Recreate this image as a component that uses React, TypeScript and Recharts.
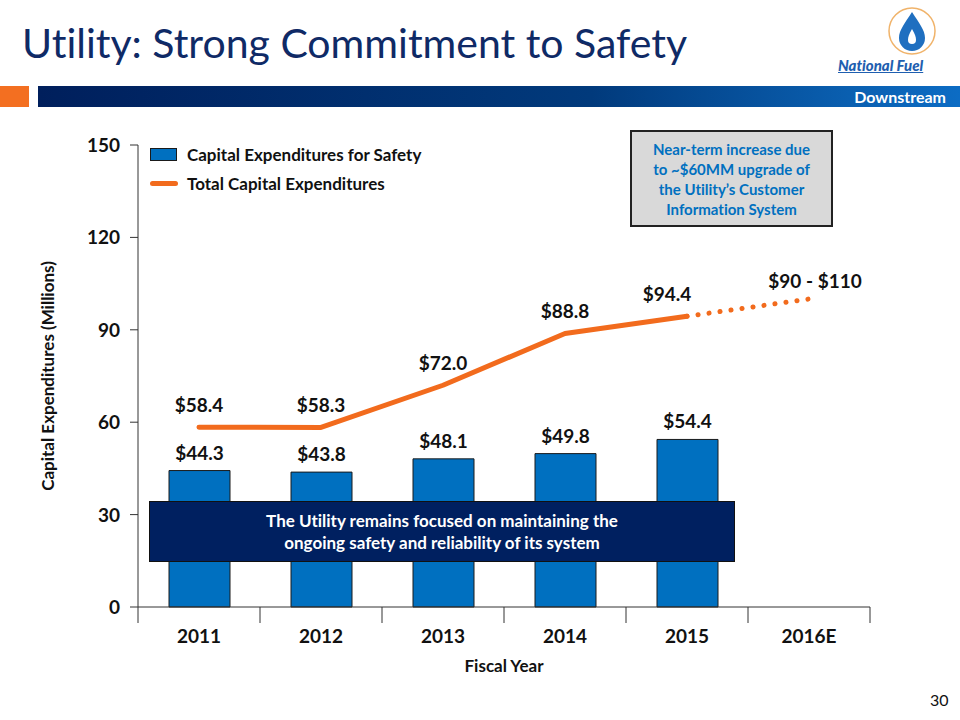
import React from 'react'
import {
  ComposedChart,
  Bar,
  Line,
  XAxis,
  YAxis,
  LabelList,
} from 'recharts'

const FONT = 'Lato, "Open Sans", sans-serif'

const years = ['2011', '2012', '2013', '2014', '2015', '2016E']
const safetyCapex = [44.3, 43.8, 48.1, 49.8, 54.4, null]
const totalCapex = [58.4, 58.3, 72.0, 88.8, 94.4, null]
const projectedCapex = [null, null, null, null, 94.4, 100]
const totalLabels = ['$58.4', '$58.3', '$72.0', '$88.8', '$94.4', '']
const projectedLabels = ['', '', '', '', '', '$90 - $110']
const yTicks = [0, 30, 60, 90, 120, 150]

const data = years.map((year, i) => ({
  year,
  safety: safetyCapex[i],
  total: totalCapex[i],
  projected: projectedCapex[i],
}))

const BAR_BLUE = '#0070c0'
const ORANGE = '#f26b1d'
const HALF_BAND = 61
const NOLIG: React.CSSProperties = { fontVariantLigatures: 'none' }

function XTick(props: any) {
  const { x, y, payload, index } = props
  const isLast = index === years.length - 1
  return (
    <g>
      <line x1={x - HALF_BAND} x2={x - HALF_BAND} y1={y - 8} y2={y + 8} stroke="#333" strokeWidth={1} />
      {isLast && <line x1={x + HALF_BAND} x2={x + HALF_BAND} y1={y - 8} y2={y + 8} stroke="#333" strokeWidth={1} />}
      <text x={x} y={y + 28} textAnchor="middle" fontFamily={FONT} fontWeight={700} fontSize={19} fill="#111">
        {payload.value}
      </text>
    </g>
  )
}

function YTick(props: any) {
  const { x, y, payload } = props
  return (
    <text x={x - 8} y={y} dy={7} textAnchor="end" fontFamily={FONT} fontWeight={700} fontSize={19} fill="#111">
      {payload.value}
    </text>
  )
}

function totalLabel(props: any) {
  const { x, y, index } = props
  const text = totalLabels[index]
  if (!text) return null
  const dx = index === 4 ? -20 : 0
  return (
    <text x={x + dx} y={y - 15} textAnchor="middle" fontFamily={FONT} fontWeight={700} fontSize={19} fill="#111">
      {text}
    </text>
  )
}

function projectedLabel(props: any) {
  const { x, y, index } = props
  const text = projectedLabels[index]
  if (!text) return null
  return (
    <text x={x + 6} y={y - 11} textAnchor="middle" fontFamily={FONT} fontWeight={700} fontSize={19} fill="#111">
      {text}
    </text>
  )
}

function barLabel(props: any) {
  const { x, y, width, value } = props
  if (value == null) return null
  return (
    <text x={x + width / 2} y={y - 11} textAnchor="middle" fontFamily={FONT} fontWeight={700} fontSize={19} fill="#111">
      {'$' + Number(value).toFixed(1)}
    </text>
  )
}

export default function App() {
  const legendTxt: React.CSSProperties = { fontFamily: FONT, fontWeight: 700, fontSize: 17, color: '#111' }
  return (
    <div style={{ ...NOLIG, position: 'absolute', left: 0, top: 0, width: 960, height: 720, background: '#fff', overflow: 'hidden' }}>
      {/* header */}
      <div style={{ position: 'absolute', left: 22, top: 18, fontFamily: FONT, fontSize: 41, color: '#0f2a66' }}>
        Utility: Strong Commitment to Safety
      </div>
      <div style={{ position: 'absolute', left: 0, top: 86, width: 29, height: 21, background: '#f36f21' }} />
      <div
        style={{
          position: 'absolute',
          left: 38,
          top: 86,
          width: 922,
          height: 21,
          background: 'linear-gradient(90deg, #001f5c 0%, #013a7c 60%, #0a5fb0 88%, #0c6cc4 100%)',
        }}
      />
      <div
        style={{
          position: 'absolute',
          right: 14,
          top: 86,
          height: 21,
          lineHeight: '21px',
          fontFamily: FONT,
          fontWeight: 700,
          fontSize: 16,
          color: '#fff',
        }}
      >
        Downstream
      </div>
      <svg style={{ position: 'absolute', left: 880, top: 4 }} width={64} height={54}>
        <circle cx={32} cy={27} r={23} fill="#fff" stroke="#f0b36a" strokeWidth={1.5} />
        <path d="M32 8 C39 19 45 26 45 34 A13 13 0 0 1 19 34 C19 26 25 19 32 8 Z" fill="#1f6fc0" />
        <path d="M32 25 C35 30 36 33 36 36 A4 4 0 0 1 28 36 C28 33 29 30 32 25 Z" fill="#fff" />
      </svg>
      <div
        style={{
          position: 'absolute',
          left: 838,
          top: 56,
          fontFamily: FONT,
          fontWeight: 900,
          fontStyle: 'italic',
          fontSize: 15,
          color: '#1f5fb0',
          textDecoration: 'underline',
        }}
      >
        National Fuel
      </div>

      <ComposedChart
        width={960}
        height={720}
        data={data}
        margin={{ top: 145, right: 90, bottom: 83, left: 0 }}
      >
        <XAxis
          dataKey="year"
          tickLine={false}
          axisLine={{ stroke: '#333', strokeWidth: 1 }}
          tick={<XTick />}
          height={30}
          interval={0}
          label={{
            value: 'Fiscal Year',
            position: 'insideBottom',
            offset: -35,
            style: { fontFamily: FONT, fontWeight: 700, fontSize: 17, fill: '#111' },
          }}
        />
        <YAxis
          domain={[0, 150]}
          ticks={yTicks}
          width={138}
          tickSize={8}
          tickLine={{ stroke: '#333' }}
          axisLine={{ stroke: '#333' }}
          tick={<YTick />}
          label={{
            value: 'Capital Expenditures (Millions)',
            angle: -90,
            position: 'insideLeft',
            offset: 48,
            style: { fontFamily: FONT, fontWeight: 700, fontSize: 17, fill: '#111', textAnchor: 'middle' },
          }}
        />
        <Bar dataKey="safety" fill={BAR_BLUE} stroke="#1a1a1a" strokeWidth={1} barSize={61} isAnimationActive={false}>
          <LabelList dataKey="safety" content={barLabel} />
        </Bar>
        <Line
          dataKey="total"
          type="linear"
          stroke={ORANGE}
          strokeWidth={5}
          strokeLinecap="round"
          strokeLinejoin="round"
          dot={false}
          activeDot={false}
          isAnimationActive={false}
        >
          <LabelList dataKey="total" content={totalLabel} />
        </Line>
        <Line
          dataKey="projected"
          type="linear"
          stroke={ORANGE}
          strokeWidth={5}
          strokeLinecap="round"
          strokeDasharray="0.1 11"
          dot={false}
          activeDot={false}
          isAnimationActive={false}
        >
          <LabelList dataKey="projected" content={projectedLabel} />
        </Line>
      </ComposedChart>

      {/* legend */}
      <div style={{ position: 'absolute', left: 150, top: 144, display: 'flex', flexDirection: 'column', gap: 8 }}>
        <div style={{ display: 'flex', alignItems: 'center' }}>
          <span style={{ width: 25, height: 11, background: BAR_BLUE, border: '1px solid #1a1a1a', marginRight: 10 }} />
          <span style={legendTxt}>Capital Expenditures for Safety</span>
        </div>
        <div style={{ display: 'flex', alignItems: 'center' }}>
          <span style={{ width: 28, height: 5, background: ORANGE, borderRadius: 3, marginRight: 9 }} />
          <span style={legendTxt}>Total Capital Expenditures</span>
        </div>
      </div>

      {/* annotation boxes */}
      <div
        style={{
          position: 'absolute',
          left: 630,
          top: 130,
          width: 203,
          height: 97,
          boxSizing: 'border-box',
          background: '#d9d9d9',
          border: '2px solid #222',
          display: 'flex',
          alignItems: 'center',
          justifyContent: 'center',
          textAlign: 'center',
          fontFamily: FONT,
          fontWeight: 700,
          fontSize: 15,
          lineHeight: '20px',
          color: '#0070c0',
        }}
      >
        Near-term increase due
        <br />
        to ~$60MM upgrade of
        <br />
        the Utility’s Customer
        <br />
        Information System
      </div>
      <div
        style={{
          position: 'absolute',
          left: 149,
          top: 501,
          width: 586,
          height: 61,
          boxSizing: 'border-box',
          background: '#002060',
          border: '1px solid #111',
          display: 'flex',
          alignItems: 'center',
          justifyContent: 'center',
          textAlign: 'center',
          fontFamily: FONT,
          fontWeight: 700,
          fontSize: 17,
          lineHeight: '22px',
          color: '#fff',
        }}
      >
        The Utility remains focused on maintaining the
        <br />
        ongoing safety and reliability of its system
      </div>
      <div style={{ position: 'absolute', left: 930, top: 690, fontFamily: FONT, fontSize: 16, color: '#111' }}>30</div>
    </div>
  )
}
